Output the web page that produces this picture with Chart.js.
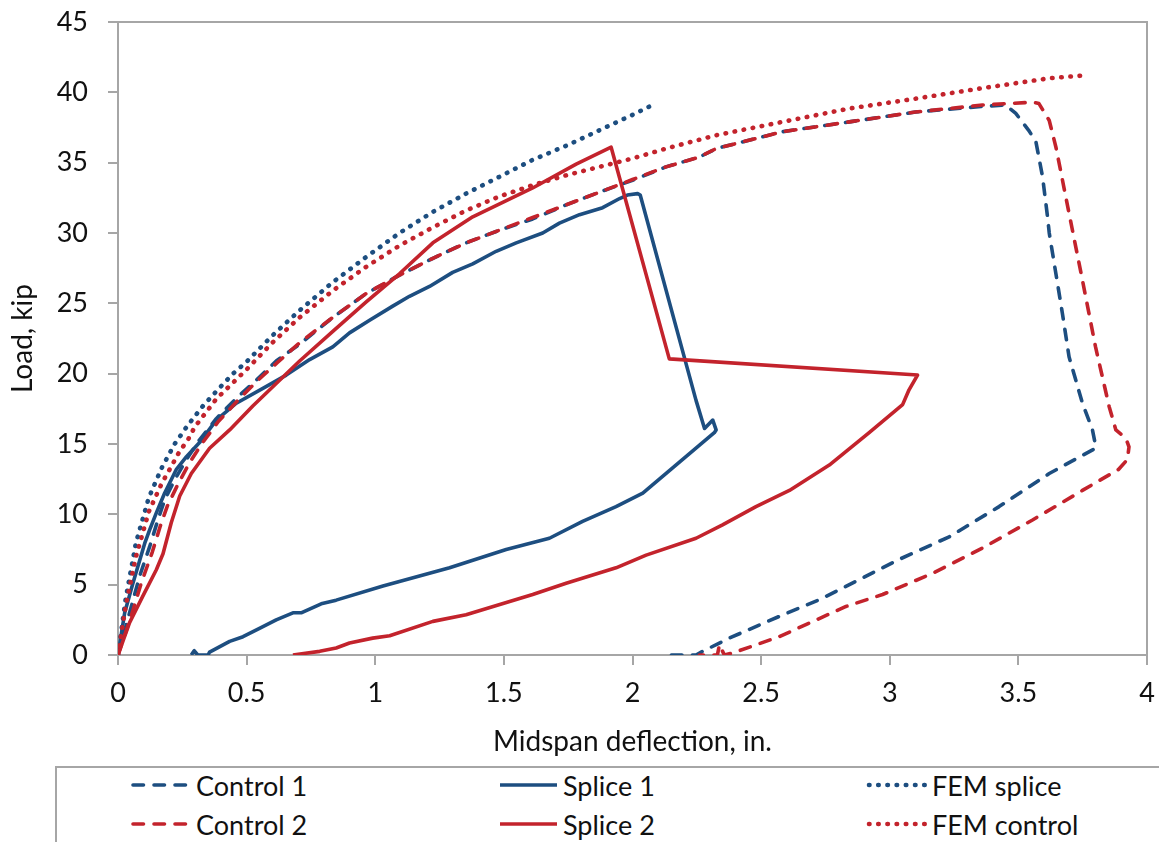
<!DOCTYPE html>
<html><head><meta charset="utf-8">
<script src="https://cdn.jsdelivr.net/npm/chart.js@4.4.1/dist/chart.umd.min.js"></script>
<style>
html,body{margin:0;padding:0;background:#fff;}
#wrap{position:relative;width:1159px;height:842px;overflow:hidden;font-family:Lato,'Open Sans',sans-serif;}
#cbox{position:absolute;left:0;top:0;width:1159px;height:764px;}
#legend{position:absolute;left:55px;top:766px;width:1120px;height:90px;border-top:2px solid #a6a6a6;border-left:2px solid #a6a6a6;}
.item{position:absolute;display:flex;align-items:center;height:32px;font-size:27px;color:#111;white-space:nowrap;}
.item svg{margin-right:3px;}
</style></head>
<body><div id="wrap"><div id="cbox"><canvas id="c"></canvas></div><div id="legend"></div></div>
<script>
const FONT = "Lato, 'Open Sans', sans-serif";
const BLUE = '#1d4e80', RED = '#c3232c';

const xTicks = [0, 0.5, 1, 1.5, 2, 2.5, 3, 3.5, 4];
const yTicks = [0, 5, 10, 15, 20, 25, 30, 35, 40, 45];

const control1X = [0, 0.045, 0.084, 0.123, 0.155, 0.181, 0.22, 0.266, 0.317, 0.382, 0.46, 0.538, 0.615, 0.706, 0.835, 0.965, 1.094, 1.224, 1.353, 1.483, 1.612, 1.742, 1.871, 2.0, 2.13, 2.26, 2.325, 2.583, 2.843, 3.1, 3.36, 3.45, 3.49, 3.54, 3.568, 3.594, 3.613, 3.62, 3.671, 3.697, 3.749, 3.788, 3.80, 3.80, 3.62, 3.425, 3.231, 3.037, 2.843, 2.726, 2.57, 2.376, 2.273, 2.247, 2.117];
const control1Y = [0, 3.0, 5.6, 7.7, 9.6, 11.0, 12.45, 13.9, 15.3, 16.8, 18.25, 19.55, 20.9, 22.1, 24.0, 25.7, 27.0, 28.2, 29.3, 30.2, 31.0, 32.0, 32.9, 33.75, 34.7, 35.4, 36.0, 37.2, 37.9, 38.6, 39.0, 39.1, 38.5, 37.3, 36.5, 34.0, 31.2, 30.0, 24.3, 21.2, 17.9, 16.0, 14.9, 14.7, 12.9, 10.55, 8.4, 6.8, 5.0, 3.93, 2.74, 1.2, 0.26, 0, 0];

const splice1X = [0, 0.026, 0.058, 0.104, 0.123, 0.149, 0.181, 0.227, 0.266, 0.317, 0.382, 0.46, 0.577, 0.654, 0.745, 0.835, 0.9, 0.978, 1.068, 1.133, 1.211, 1.301, 1.379, 1.47, 1.548, 1.651, 1.716, 1.794, 1.884, 1.95, 1.98, 2.02, 2.03, 2.247, 2.28, 2.312, 2.325, 2.318, 2.04, 1.936, 1.806, 1.677, 1.509, 1.289, 1.03, 0.848, 0.79, 0.712, 0.68, 0.615, 0.55, 0.486, 0.434, 0.356, 0.35, 0.31, 0.296, 0.285];
const splice1Y = [0, 3.0, 5.1, 7.95, 8.9, 10.1, 11.5, 13.2, 14.1, 15.1, 16.7, 17.9, 19.1, 19.9, 21.0, 21.9, 22.9, 23.8, 24.8, 25.5, 26.2, 27.2, 27.8, 28.7, 29.3, 30.0, 30.7, 31.3, 31.8, 32.45, 32.7, 32.8, 32.7, 18.1, 16.1, 16.7, 16.0, 15.8, 11.5, 10.55, 9.5, 8.3, 7.5, 6.2, 4.9, 3.9, 3.64, 3.0, 3.0, 2.5, 1.9, 1.3, 0.97, 0.2, 0, 0, 0.3, 0];

const femSpliceX = [0, 0.03, 0.07, 0.12, 0.17, 0.22, 0.27, 0.33, 0.39, 0.447, 0.5, 0.6, 0.706, 0.835, 0.965, 1.094, 1.224, 1.353, 1.483, 1.612, 1.742, 1.871, 2.0, 2.078];
const femSpliceY = [0, 4.0, 8.0, 11.2, 13.3, 15.0, 16.3, 17.7, 18.9, 20.0, 20.85, 22.7, 24.5, 26.5, 28.3, 30.0, 31.5, 32.8, 34.0, 35.2, 36.2, 37.3, 38.4, 39.1];

const control2X = [0, 0.05, 0.092, 0.133, 0.165, 0.192, 0.232, 0.276, 0.325, 0.39, 0.466, 0.542, 0.62, 0.706, 0.835, 0.965, 1.094, 1.224, 1.353, 1.483, 1.612, 1.742, 1.871, 2.0, 2.13, 2.26, 2.325, 2.583, 2.843, 3.1, 3.36, 3.555, 3.58, 3.62, 3.646, 3.697, 3.749, 3.80, 3.853, 3.879, 3.918, 3.93, 3.924, 3.89, 3.749, 3.555, 3.36, 3.166, 2.972, 2.83, 2.57, 2.389, 2.357, 2.338, 2.33, 2.26];
const control2Y = [0, 2.7, 5.2, 7.3, 9.2, 10.6, 12.1, 13.6, 15.0, 16.6, 18.1, 19.5, 20.8, 22.2, 24.0, 25.7, 27.0, 28.2, 29.3, 30.2, 31.1, 32.0, 32.9, 33.8, 34.7, 35.4, 36.0, 37.2, 37.9, 38.6, 39.1, 39.3, 39.2, 38.0, 36.1, 31.4, 26.65, 21.9, 17.65, 16.0, 15.4, 14.8, 13.9, 13.2, 11.7, 9.6, 7.6, 5.8, 4.3, 3.45, 1.3, 0.14, 0, 0.73, 0, 0];

const splice2X = [0, 0.045, 0.097, 0.149, 0.175, 0.207, 0.24, 0.285, 0.356, 0.434, 0.524, 0.615, 0.706, 0.835, 0.965, 1.094, 1.224, 1.379, 1.612, 1.781, 1.917, 2.143, 3.108, 3.075, 3.05, 2.92, 2.765, 2.61, 2.48, 2.35, 2.247, 2.053, 1.936, 1.742, 1.612, 1.353, 1.224, 1.056, 0.99, 0.9, 0.848, 0.784, 0.68];
const splice2Y = [0, 2.3, 4.2, 6.06, 7.2, 9.4, 11.3, 12.9, 14.7, 16.0, 17.7, 19.3, 20.9, 23.0, 25.1, 27.1, 29.3, 31.15, 33.2, 34.9, 36.1, 21.05, 19.9, 18.85, 17.8, 15.8, 13.5, 11.7, 10.55, 9.25, 8.3, 7.1, 6.2, 5.1, 4.3, 2.86, 2.39, 1.37, 1.2, 0.85, 0.5, 0.26, 0];

const femControlX = [0, 0.03, 0.07, 0.12, 0.17, 0.207, 0.24, 0.272, 0.298, 0.382, 0.5, 0.6, 0.706, 0.835, 0.965, 1.094, 1.224, 1.353, 1.483, 1.612, 1.742, 1.871, 2.0, 2.13, 2.325, 2.583, 2.843, 3.10, 3.36, 3.62, 3.756];
const femControlY = [0, 3.5, 7.0, 10.2, 12.2, 13.4, 14.5, 15.3, 16.2, 18.2, 20.3, 22.2, 24.0, 25.9, 27.6, 29.1, 30.4, 31.6, 32.6, 33.4, 34.1, 34.7, 35.3, 36.0, 36.95, 37.9, 38.85, 39.55, 40.3, 41.0, 41.2];

const seriesNames = ['Control 1', 'Splice 1', 'FEM splice', 'Control 2', 'Splice 2', 'FEM control'];
const seriesX = [control1X, splice1X, femSpliceX, control2X, splice2X, femControlX];
const seriesY = [control1Y, splice1Y, femSpliceY, control2Y, splice2Y, femControlY];
const seriesColors = [BLUE, BLUE, BLUE, RED, RED, RED];
const seriesStyles = ['dash', 'solid', 'dot', 'dash', 'solid', 'dot'];

const STY = {
  dash: {dash: [10.5, 10.5], width: 3.6, cap: 'round', svgDash: '10.5 10.5', svgCap: 'round'},
  solid: {dash: [], width: 3.6, cap: 'butt', svgDash: 'none', svgCap: 'butt'},
  dot: {dash: [0.5, 8.7], width: 4.6, cap: 'round', svgDash: '0.5 8.7', svgCap: 'round'}
};

const datasets = seriesNames.map((name, i) => {
  const s = STY[seriesStyles[i]];
  return {
    label: name,
    data: seriesX[i].map((x, k) => ({x: x, y: seriesY[i][k]})),
    borderColor: seriesColors[i],
    backgroundColor: seriesColors[i],
    borderWidth: s.width,
    borderDash: s.dash,
    borderCapStyle: s.cap,
    borderJoinStyle: 'round',
    showLine: true,
    pointRadius: 0,
    pointHoverRadius: 0,
    tension: 0,
    fill: false,
    order: 10 - i
  };
});

const frame = {
  id: 'frame',
  beforeDatasetsDraw(chart) {
    const {ctx, chartArea: a} = chart;
    ctx.save();
    ctx.strokeStyle = '#a6a6a6';
    ctx.lineWidth = 2;
    ctx.beginPath();
    ctx.moveTo(a.left, a.top);
    ctx.lineTo(a.right, a.top);
    ctx.lineTo(a.right, a.bottom);
    ctx.stroke();
    ctx.restore();
  }
};

const tickFont = {family: FONT, size: 27};
const titleFont = {family: FONT, size: 28};
new Chart(document.getElementById('c'), {
  type: 'scatter',
  data: {datasets},
  plugins: [frame],
  options: {
    responsive: true,
    maintainAspectRatio: false,
    animation: false,
    layout: {padding: {top: 22, right: 12, left: 0, bottom: 0}},
    plugins: {legend: {display: false}, tooltip: {enabled: false}},
    scales: {
      x: {
        type: 'linear', min: xTicks[0], max: xTicks[xTicks.length - 1],
        afterBuildTicks: s => { s.ticks = xTicks.map(v => ({value: v})); },
        ticks: {font: tickFont, color: '#111', padding: 12, maxRotation: 0, callback: v => String(v)},
        grid: {drawOnChartArea: false, drawTicks: true, tickLength: 10, color: '#a6a6a6', lineWidth: 2},
        border: {color: '#a6a6a6', width: 2},
        title: {display: true, text: 'Midspan deflection, in.', font: titleFont, color: '#111', padding: {top: 0, bottom: 5}},
        afterFit: s => { s.height = 109; s.paddingLeft = 0; s.paddingRight = 0; }
      },
      y: {
        type: 'linear', min: yTicks[0], max: yTicks[yTicks.length - 1],
        afterBuildTicks: s => { s.ticks = yTicks.map(v => ({value: v})); },
        ticks: {font: tickFont, color: '#111', padding: 20, callback: v => String(v)},
        grid: {drawOnChartArea: false, drawTicks: true, tickLength: 10, color: '#a6a6a6', lineWidth: 2},
        border: {color: '#a6a6a6', width: 2},
        title: {display: true, text: 'Load, kip', font: titleFont, color: '#111', padding: {top: 6, bottom: 0}},
        afterFit: s => { s.width = 118; s.paddingTop = 0; s.paddingBottom = 0; }
      }
    }
  }
});

// HTML legend
const legendEl = document.getElementById('legend');
const colLeft = [73, 440, 809];
const rowTop = [1, 40];
seriesNames.forEach((name, i) => {
  const s = STY[seriesStyles[i]];
  const div = document.createElement('div');
  div.className = 'item';
  div.style.left = colLeft[i % 3] + 'px';
  div.style.top = rowTop[Math.floor(i / 3)] + 'px';
  const dashAttr = s.svgDash === 'none' ? '' : ` stroke-dasharray="${s.svgDash}"`;
  div.innerHTML = `<svg width="63" height="12"><line x1="3" y1="6" x2="60" y2="6" stroke="${seriesColors[i]}" stroke-width="${s.width}" stroke-linecap="${s.svgCap}"${dashAttr}/></svg><span>${name}</span>`;
  legendEl.appendChild(div);
});
</script>
</body></html>
